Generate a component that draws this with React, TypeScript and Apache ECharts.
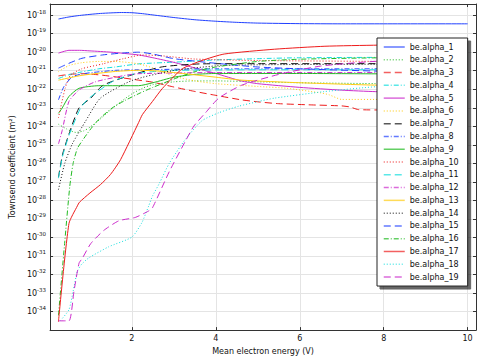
import React, { useEffect, useRef } from "react";
import * as echarts from "echarts";

// x: mean electron energy (V); y: log10 of Townsend coefficient (m^2)
const seriesNames = [
  "be.alpha_1", "be.alpha_2", "be.alpha_3", "be.alpha_4", "be.alpha_5",
  "be.alpha_6", "be.alpha_7", "be.alpha_8", "be.alpha_9", "be.alpha_10",
  "be.alpha_11", "be.alpha_12", "be.alpha_13", "be.alpha_14", "be.alpha_15",
  "be.alpha_16", "be.alpha_17", "be.alpha_18", "be.alpha_19",
];

const alpha1 = [[0.25,-18.21],[0.5,-18.1],[0.75,-18.02],[1,-17.96],[1.25,-17.91],[1.5,-17.88],[1.75,-17.86],[2,-17.87],[2.25,-17.92],[2.5,-17.99],[3,-18.13],[3.5,-18.25],[4,-18.33],[4.5,-18.39],[5,-18.43],[6,-18.46],[7,-18.47],[8,-18.47],[10,-18.47]];
const alpha2 = [[0.25,-23.89],[0.45,-24.15],[0.66,-24.33],[0.85,-24.25],[1,-24.05],[1.25,-23.6],[1.5,-23.1],[1.75,-22.65],[2,-22.25],[2.25,-21.95],[2.5,-21.75],[3,-21.6],[3.5,-21.55],[4,-21.55],[5,-21.6],[6,-21.65],[8,-21.7],[10,-21.72]];
const alpha3 = [[0.25,-21.28],[0.5,-21.2],[0.8,-21.16],[1.2,-21.22],[1.6,-21.33],[2.16,-21.51],[2.5,-21.62],[3,-21.88],[3.5,-22.12],[4,-22.33],[4.6,-22.57],[5,-22.68],[5.5,-22.78],[6.2,-22.84],[7,-22.9],[7.2,-22.96],[7.4,-23.1],[8,-23.12],[10,-23.13]];
const alpha4 = [[0.25,-21.42],[0.5,-21.22],[0.8,-21.07],[1.2,-20.9],[1.6,-20.8],[2.16,-20.63],[3,-20.54],[4,-20.42],[5,-20.35],[6,-20.3],[8,-20.28],[10,-20.27]];
const alpha5 = [[0.25,-20.05],[0.5,-19.9],[0.75,-19.9],[1,-19.93],[1.5,-20.0],[2.16,-20.15],[2.5,-20.3],[3,-20.55],[3.5,-20.85],[4,-21.15],[4.6,-21.55],[5,-21.7],[6,-21.9],[7,-22.05],[7.8,-22.13],[9,-22.2],[10,-22.25]];
const alpha6 = [[0.25,-21.05],[0.5,-20.72],[0.8,-20.57],[1.2,-20.5],[1.6,-20.5],[2.16,-20.63],[2.5,-20.85],[3,-21.3],[3.5,-21.55],[4,-21.7],[5,-21.85],[5.7,-21.95],[6.5,-22.2],[6.7,-22.3],[7,-22.55],[8,-22.55],[10,-22.6]];
const alpha7 = [[0.25,-26.75],[0.35,-25.5],[0.5,-24.42],[0.74,-23.01],[1.02,-22.48],[1.31,-21.79],[1.95,-21.26],[2.73,-20.79],[3.67,-20.63],[5,-20.62],[8,-20.62],[10,-20.62]];
const alpha8 = [[0.25,-22.57],[0.38,-21.86],[0.58,-21.33],[0.8,-21.18],[1.05,-21.1],[1.61,-20.98],[2.16,-20.95],[4,-20.9],[6,-20.9],[8,-20.9],[10,-20.9]];
const alpha9 = [[0.25,-23.3],[0.34,-23.01],[0.5,-22.39],[0.74,-21.95],[1.21,-21.81],[2.16,-21.81],[2.5,-21.65],[3,-21.35],[3.5,-21.2],[4,-21.15],[6,-21.15],[8,-21.17],[10,-21.18]];
const alpha10 = [[0.25,-23.54],[0.3,-23.01],[0.41,-21.95],[0.53,-21.26],[0.8,-20.9],[1.31,-20.63],[1.8,-20.35],[2.25,-20.15],[2.73,-20.2],[3.5,-20.37],[5,-20.45],[8,-20.5],[10,-20.52]];
const alpha11 = [[0.25,-26.8],[0.35,-25.6],[0.5,-24.5],[0.78,-23.0],[0.98,-22.48],[1.54,-21.58],[2,-21.2],[2.5,-21.05],[3,-20.98],[5,-20.95],[8,-20.95],[10,-20.95]];
const alpha12 = [[0.25,-24.95],[0.34,-24.22],[0.5,-22.66],[0.74,-22.04],[1.13,-21.6],[1.84,-21.25],[2.16,-21.16],[4,-21.1],[8,-21.1],[10,-21.1]];
const alpha13 = [[0.25,-21.51],[0.81,-21.25],[1.61,-21.04],[2.16,-20.98],[2.5,-21.0],[3,-21.1],[4,-21.35],[4.62,-21.51],[6,-21.65],[7.86,-21.78],[10,-21.8]];
const alpha14 = [[0.25,-27.42],[0.4,-26.0],[0.58,-24.95],[0.9,-23.71],[1.25,-22.48],[2,-21.53],[2.96,-21.0],[4,-20.74],[5,-20.68],[8,-20.65],[10,-20.65]];
const alpha15 = [[0.25,-20.86],[0.5,-20.6],[0.81,-20.33],[1.3,-20.15],[1.8,-20.04],[2.16,-20.0],[2.5,-20.1],[3,-20.35],[4,-20.6],[5,-20.8],[6,-20.9],[8,-21.03],[10,-21.08]];
const alpha16 = [[0.25,-34.2],[0.4,-30.24],[0.52,-27.24],[0.6,-26.0],[0.7,-25.2],[0.82,-24.77],[1,-24.2],[1.21,-23.63],[1.53,-23.01],[1.84,-22.6],[2.2,-22.2],[2.5,-21.9],[3,-21.45],[3.5,-21.05],[4,-20.8],[5,-20.5],[6,-20.38],[8,-20.3],[10,-20.28]];
const alpha17 = [[0.25,-34.55],[0.5,-29.25],[0.7,-28.3],[0.75,-28.1],[1,-27.6],[1.25,-27.15],[1.49,-26.6],[1.73,-25.8],[2.16,-23.8],[2.25,-23.37],[2.49,-22.66],[2.73,-21.95],[3.2,-20.9],[3.67,-20.45],[4.2,-20.1],[5.4,-19.84],[6.6,-19.68],[7.87,-19.62],[9,-19.58],[10,-19.55]];
const alpha18 = [[0.3,-34.48],[0.5,-33.9],[0.6,-32.9],[0.7,-31.83],[0.8,-31.45],[0.975,-31.1],[1.45,-30.5],[2,-29.98],[2.24,-29.19],[2.4,-28.3],[2.49,-27.77],[2.65,-27.1],[2.89,-26.0],[3.28,-24.69],[3.67,-23.7],[4.07,-23.27],[4.54,-22.92],[5.02,-22.66],[5.4,-22.48],[6.58,-22.13],[7.86,-21.86],[10,-21.75]];
const alpha19 = [[0.25,-34.5],[0.5,-34.5],[0.62,-32.9],[0.74,-31.39],[0.82,-31.12],[1.02,-30.33],[1.33,-29.62],[1.69,-29.1],[2.08,-28.92],[2.4,-28.57],[2.49,-28.4],[2.89,-26.45],[3.28,-24.78],[3.48,-23.98],[3.75,-23.28],[4.07,-22.48],[4.62,-21.78],[5.57,-21.16],[6.5,-20.75],[7.77,-20.5],[10,-20.3]];

const seriesData = [alpha1, alpha2, alpha3, alpha4, alpha5, alpha6, alpha7, alpha8, alpha9, alpha10,
  alpha11, alpha12, alpha13, alpha14, alpha15, alpha16, alpha17, alpha18, alpha19];

const colorCycle = ["#2040ff", "#22bb22", "#ee1c1c", "#14dede", "#cc2ccc", "#ffcc11", "#111111"];
const dashCycle: any[] = ["solid", [1, 2], [7, 4], [5, 2, 1, 2]];

const FONT = "DejaVu Sans";

export default function App() {
  const ref = useRef<HTMLDivElement>(null);
  useEffect(() => {
    if (!ref.current) return;
    const chart = echarts.init(ref.current, null, { renderer: "svg" });
    const axisColor = "#333";
    const xBase = {
      type: "value",
      min: 0.05,
      max: 10.2,
      splitNumber: 5,
      axisLine: { show: true, onZero: false, lineStyle: { color: axisColor, width: 1 } },
      axisTick: { show: true, inside: true, length: 3, lineStyle: { color: axisColor } },
    };
    const yBase = {
      type: "value",
      min: -35,
      max: -17.4,
      interval: 1,
      axisLine: { show: true, onZero: false, lineStyle: { color: axisColor, width: 1 } },
      axisTick: { show: true, inside: true, length: 3, lineStyle: { color: axisColor } },
    };
    const option: any = {
      animation: false,
      backgroundColor: "#ffffff",
      textStyle: { fontFamily: FONT },
      grid: { left: 47, right: 5, top: 4, bottom: 23.4, containLabel: false },
      legend: {
        orient: "vertical",
        left: 377,
        top: 38,
        padding: [5, 9, 5, 6],
        itemWidth: 21,
        itemHeight: 10,
        itemGap: 4.78,
        itemTextGap: 5,
        data: seriesNames,
        itemStyle: { opacity: 0 },
        lineStyle: { width: 1.5, opacity: 0.7 },
        textStyle: { fontSize: 8, color: "#111", fontFamily: FONT },
        backgroundColor: "#ffffff",
        borderColor: "#222",
        borderWidth: 1,
        borderRadius: 0,
        shadowColor: "rgba(0,0,0,0.6)",
        shadowBlur: 1,
        shadowOffsetX: 3,
        shadowOffsetY: 3,
      },
      xAxis: [
        {
          ...xBase,
          position: "bottom",
          name: "Mean electron energy (V)",
          nameLocation: "middle",
          nameGap: 12,
          nameTextStyle: { fontSize: 8, color: "#111", fontFamily: FONT },
          axisLabel: {
            fontSize: 8,
            color: "#111",
            fontFamily: FONT,
            margin: 4,
            showMinLabel: false,
            showMaxLabel: false,
            formatter: (v: number) => (Number.isInteger(v) ? String(v) : ""),
          },
          splitLine: { show: true, lineStyle: { color: "#e4e4e4", width: 1 } },
        },
        {
          ...xBase,
          position: "top",
          axisLabel: { show: false },
          splitLine: { show: false },
        },
      ],
      yAxis: [
        {
          ...yBase,
          position: "left",
          name: "Townsend coefficient (m\u00b2)",
          nameLocation: "middle",
          nameGap: 34,
          nameTextStyle: { fontSize: 8, color: "#111", fontFamily: FONT },
          axisLabel: {
            margin: 4,
            showMinLabel: false,
            showMaxLabel: false,
            formatter: (v: number) => (Number.isInteger(v) ? `{b|10}{s|${v}}` : ""),
            rich: {
              b: { fontSize: 8, lineHeight: 13, color: "#111", fontFamily: FONT },
              s: { fontSize: 5.5, lineHeight: 8, verticalAlign: "top", color: "#111", fontFamily: FONT },
            },
          },
          splitLine: { show: true, lineStyle: { color: "#e4e4e4", width: 1 } },
        },
        {
          ...yBase,
          position: "right",
          axisLabel: { show: false },
          splitLine: { show: false },
        },
      ],
      series: seriesData.map((d, i) => ({
        name: seriesNames[i],
        type: "line",
        xAxisIndex: 0,
        yAxisIndex: 0,
        data: d,
        symbol: "none",
        smooth: 0.2,
        lineStyle: { color: colorCycle[i % 7], width: 1, type: dashCycle[i % 4] },
        itemStyle: { color: colorCycle[i % 7] },
      })),
    };
    chart.setOption(option);
    return () => chart.dispose();
  }, []);
  return (
    <div
      ref={ref}
      style={{ position: "fixed", left: 0, top: 0, width: 481, height: 360, background: "#fff" }}
    />
  );
}
